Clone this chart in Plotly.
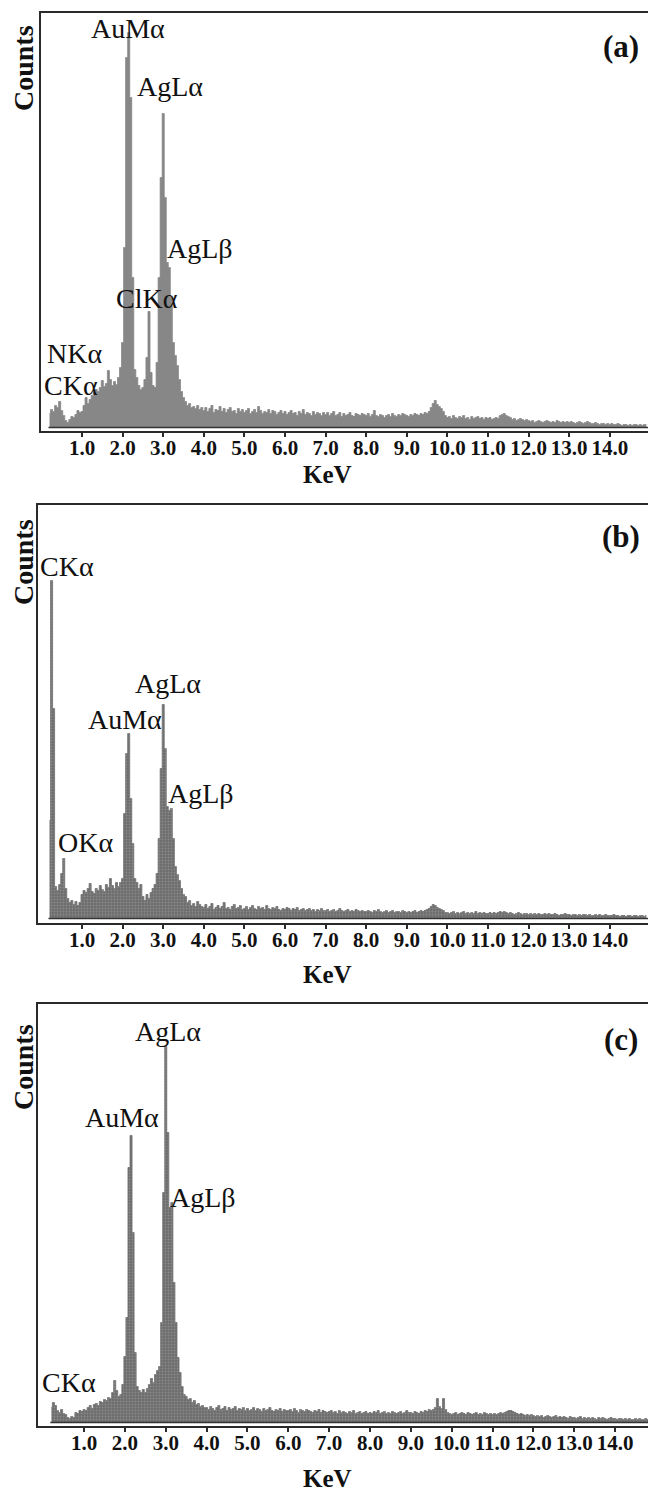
import numpy as np
import plotly.graph_objects as go

W, H = 648, 1494

# Channel centres (keV), 0.05 keV bins
energy = np.round(np.arange(0.20, 14.90 + 1e-6, 0.05), 2)

tick_vals = [1, 2, 3, 4, 5, 6, 7, 8, 9, 10, 11, 12, 13, 14]
tick_text = ["1.0", "2.0", "3.0", "4.0", "5.0", "6.0", "7.0",
             "8.0", "9.0", "10.0", "11.0", "12.0", "13.0", "14.0"]

# ---- spectrum (a) ----
counts_a = [
    14, 18, 16, 22, 20, 26, 17, 12, 7, 5, 8, 11, 10, 13, 17, 15,
    16, 22, 30, 24, 28, 32, 35, 38, 36, 40, 47, 41, 44, 57, 48, 42, 46, 43, 50, 60,
    85, 180, 370, 395, 330, 150, 58, 50, 42, 38, 40, 48, 70, 116, 55, 42, 40, 65, 150, 250,
    314, 230, 165, 160, 130, 85, 72, 62, 48, 36, 30, 26, 22, 24, 20, 21, 19, 22, 18, 20,
    17, 20, 16, 19, 22, 15, 18, 17, 21, 16, 19, 15, 18, 20, 16, 17, 14, 19, 16, 18,
    15, 17, 19, 14, 16, 18, 15, 21, 17, 14, 16, 15, 18, 14, 17, 16, 13, 15, 17, 14,
    16, 13, 15, 17, 14, 15, 12, 16, 14, 18, 13, 15, 14, 12, 16, 13, 15, 14, 12, 15,
    13, 15, 12, 14, 16, 12, 13, 15, 11, 14, 12, 13, 15, 12, 11, 14, 13, 12, 14, 13,
    12, 14, 11, 13, 17, 12, 11, 13, 12, 10, 12, 13, 11, 14, 12, 11, 13, 12, 14, 13,
    12, 11, 13, 12, 14, 13, 12, 14, 13, 15, 14, 16, 20, 24, 27, 23, 21, 19, 16, 12,
    10, 11, 9, 12, 10, 9, 11, 10, 12, 9, 10, 8, 11, 9, 10, 11, 9, 10, 8, 10,
    9, 10, 8, 9, 10, 9, 12, 13, 14, 12, 11, 10, 8, 9, 7, 8, 9, 8, 7, 8,
    7, 6, 7, 5, 6, 7, 6, 5, 6, 7, 6, 5, 6, 5, 7, 6, 5, 6, 5, 6,
    5, 6, 5, 4, 5, 6, 5, 4, 5, 6, 5, 4, 4, 5, 4, 3, 4, 4, 3, 4,
    3, 4, 3, 3, 4, 3, 2, 3, 3, 2, 3, 2, 3, 3, 2, 3, 2, 3, 3,
]

# ---- spectrum (b) ----
counts_b = [
    98, 338, 210, 32, 28, 34, 45, 60, 30, 20, 16, 18, 14, 17, 13, 16,
    24, 28, 26, 30, 35, 27, 25, 30, 28, 33, 29, 27, 34, 31, 40, 33, 30, 36, 32, 36,
    40, 105, 165, 185, 120, 75, 40, 36, 30, 34, 22, 18, 24, 20, 26, 30, 34, 45, 80, 150,
    214, 170, 112, 108, 110, 80, 52, 44, 38, 30, 24, 22, 16, 18, 13, 15, 12, 17, 14, 12,
    11, 14, 10, 12, 15, 9, 11, 13, 10, 12, 16, 10, 11, 9, 12, 14, 10, 11, 13, 9,
    10, 12, 9, 11, 13, 10, 9, 12, 10, 11, 9, 13, 10, 9, 11, 10, 12, 9, 8, 10,
    9, 11, 10, 8, 10, 9, 11, 8, 9, 10, 8, 9, 10, 8, 9, 7, 9, 8, 10, 8,
    8, 9, 7, 8, 9, 7, 8, 10, 8, 7, 8, 9, 7, 8, 7, 9, 8, 7, 8, 7,
    7, 8, 7, 6, 8, 7, 9, 7, 6, 7, 8, 6, 7, 8, 6, 7, 7, 6, 8, 7,
    6, 7, 6, 7, 8, 6, 7, 8, 7, 8, 9, 10, 12, 14, 13, 11, 10, 9, 8, 6,
    6, 5, 6, 7, 5, 6, 5, 6, 7, 5, 6, 5, 6, 5, 7, 5, 6, 5, 6, 5,
    5, 6, 5, 6, 5, 6, 7, 6, 7, 6, 5, 6, 5, 4, 5, 6, 5, 4, 5, 5,
    4, 5, 4, 5, 4, 5, 4, 4, 5, 4, 5, 4, 4, 5, 4, 3, 4, 4, 5, 4,
    4, 3, 4, 4, 3, 4, 3, 4, 4, 3, 4, 3, 3, 4, 3, 4, 3, 3, 4, 3,
    3, 3, 4, 3, 3, 2, 3, 3, 2, 3, 3, 2, 3, 3, 2, 3, 3, 2, 3,
]

# ---- spectrum (c) ----
counts_c = [
    15, 20, 17, 12, 10, 13, 9, 8, 5, 4, 6, 5, 10, 9, 12, 11,
    13, 12, 15, 17, 14, 18, 19, 17, 21, 20, 23, 22, 25, 24, 30, 42, 32, 26, 28, 38,
    66, 105, 255, 287, 190, 70, 36, 32, 30, 33, 30, 34, 38, 44, 40, 48, 52, 56, 100, 230,
    376, 290, 215, 220, 140, 100, 65, 50, 36, 28, 26, 23, 24, 20, 22, 18, 19, 16, 17, 15,
    15, 13, 16, 14, 12, 15, 17, 13, 14, 16, 12, 15, 13, 14, 16, 12, 14, 13, 15, 12,
    14, 12, 13, 15, 12, 14, 13, 11, 14, 12, 13, 15, 12, 11, 13, 12, 14, 11, 13, 12,
    12, 13, 11, 14, 12, 10, 13, 12, 11, 13, 12, 11, 10, 12, 11, 13, 10, 12, 11, 10,
    11, 12, 10, 11, 9, 12, 10, 11, 10, 9, 11, 10, 12, 9, 10, 11, 9, 10, 11, 9,
    10, 9, 11, 10, 12, 9, 10, 11, 9, 10, 9, 11, 10, 9, 10, 11, 9, 10, 12, 10,
    10, 9, 11, 10, 9, 11, 10, 12, 11, 13, 12, 13, 15, 24, 16, 14, 24, 13, 10, 9,
    8, 9, 10, 8, 9, 10, 9, 8, 10, 9, 8, 9, 10, 8, 9, 8, 10, 9, 8, 9,
    8, 9, 8, 9, 10, 9, 10, 11, 12, 12, 11, 10, 9, 8, 9, 8, 7, 8, 7, 8,
    7, 6, 7, 6, 7, 5, 6, 7, 6, 5, 6, 7, 5, 6, 5, 6, 5, 4, 6, 5,
    5, 4, 5, 6, 4, 5, 4, 5, 4, 5, 4, 3, 5, 4, 5, 4, 3, 4, 5, 4,
    4, 3, 4, 4, 3, 4, 3, 4, 3, 3, 4, 3, 4, 3, 3, 4, 3, 3, 4,
]

assert len(counts_a) == len(energy) == len(counts_b) == len(counts_c)

# peak labels: (text, x px, y px)
labels_a = [("AuMα", 128, 28), ("AgLα", 170, 86), ("AgLβ", 200, 249),
            ("ClKα", 147, 298), ("NKα", 74, 353), ("CKα", 71, 385)]
labels_b = [("CKα", 67, 566), ("AgLα", 168, 684), ("AuMα", 125, 719),
            ("AgLβ", 201, 793), ("OKα", 85, 842)]
labels_c = [("AgLα", 168, 1031), ("AuMα", 122, 1117), ("AgLβ", 203, 1197),
            ("CKα", 69, 1382)]

SERIF = "Liberation Serif, Times New Roman, serif"

# panel geometry in pixels: left, top, axis line, baseline, px per keV, zero keV px
panels = [
    dict(name="(a)", counts=counts_a, labels=labels_a, left=41, top=13, axis=431,
         base=427.5, scale=40.6, x0=41.4, pattern=False, counts_y=68, kev_y=475,
         tag_y=47),
    dict(name="(b)", counts=counts_b, labels=labels_b, left=38, top=505, axis=923,
         base=918.5, scale=40.6, x0=41.4, pattern=True, counts_y=562, kev_y=974,
         tag_y=536),
    dict(name="(c)", counts=counts_c, labels=labels_c, left=38, top=1004, axis=1426,
         base=1422.5, scale=40.85, x0=43.2, pattern=True, counts_y=1067, kev_y=1478,
         tag_y=1039),
]

fig = go.Figure()
annotations = []
shapes = []


def px(x):
    return x / W


def py(y):
    return 1 - y / H


for i, p in enumerate(panels):
    n = "" if i == 0 else str(i + 1)
    xa, ya = "x" + n, "y" + n
    trace = dict(
        x=energy, y=p["counts"], mode="lines", line_shape="hvh",
        fill="tozeroy", xaxis=xa, yaxis=ya, showlegend=False,
        hoverinfo="skip",
    )
    if p["pattern"]:
        trace["line"] = dict(color="#6f6f6f", width=0.8)
        trace["fillcolor"] = "#727272"
        trace["fillpattern"] = dict(shape=".", fgcolor="#a6a6a6", bgcolor="#6c6c6c",
                                    size=3, solidity=0.35)
    else:
        trace["line"] = dict(color="#858585", width=0.8)
        trace["fillcolor"] = "#878787"
    fig.add_trace(go.Scatter(**trace))

    xr0 = (p["left"] - p["x0"]) / p["scale"]
    xr1 = (W - p["x0"]) / p["scale"]
    yr0 = -(p["axis"] - p["base"])
    yr1 = p["base"] - p["top"]

    fig.update_layout(**{
        "xaxis" + n: dict(
            domain=[px(p["left"]), 1], range=[xr0, xr1], anchor=ya,
            showgrid=False, zeroline=False, showline=True, linecolor="#2a2a2a",
            linewidth=2, mirror=True, ticks="outside", ticklen=4, tickwidth=1.5,
            tickcolor="#2a2a2a", tickvals=tick_vals, ticktext=tick_text,
            tickfont=dict(family=SERIF, size=21, color="#111111", weight="bold"),
            ticklabelstandoff=-7,
        ),
        "yaxis" + n: dict(
            domain=[py(p["axis"]), py(p["top"])], range=[yr0, yr1], anchor=xa,
            showgrid=False, zeroline=False, showline=True, linecolor="#2a2a2a",
            linewidth=1.5, showticklabels=False, ticks="",
        ),
    })

    # baseline under the spectrum
    shapes.append(dict(type="line", xref=xa, yref=ya, x0=energy[0] - 0.025,
                       x1=xr1, y0=0, y1=0, line=dict(color="#333333", width=1.5)))

    # axis titles and panel tag
    annotations.append(dict(text="<b>Counts</b>", x=px(23), y=py(p["counts_y"]),
                            xref="paper", yref="paper", textangle=-90, showarrow=False,
                            font=dict(family=SERIF, size=28, color="#111111"),
                            xanchor="center", yanchor="middle"))
    annotations.append(dict(text="<b>KeV</b>", x=px(327), y=py(p["kev_y"]),
                            xref="paper", yref="paper", showarrow=False,
                            font=dict(family=SERIF, size=25, color="#111111"),
                            xanchor="center", yanchor="middle"))
    annotations.append(dict(text="<b>" + p["name"] + "</b>", x=px(621), y=py(p["tag_y"]),
                            xref="paper", yref="paper", showarrow=False,
                            font=dict(family=SERIF, size=31, color="#111111"),
                            xanchor="center", yanchor="middle"))
    for txt, lx, ly in p["labels"]:
        annotations.append(dict(text=txt, x=px(lx), y=py(ly), xref="paper", yref="paper",
                                showarrow=False, xanchor="center", yanchor="middle",
                                font=dict(family=SERIF, size=28, color="#111111")))

fig.update_layout(
    width=W, height=H, margin=dict(l=0, r=0, t=0, b=0),
    paper_bgcolor="white", plot_bgcolor="white",
    annotations=annotations, shapes=shapes,
)

fig.write_html("out.html")
